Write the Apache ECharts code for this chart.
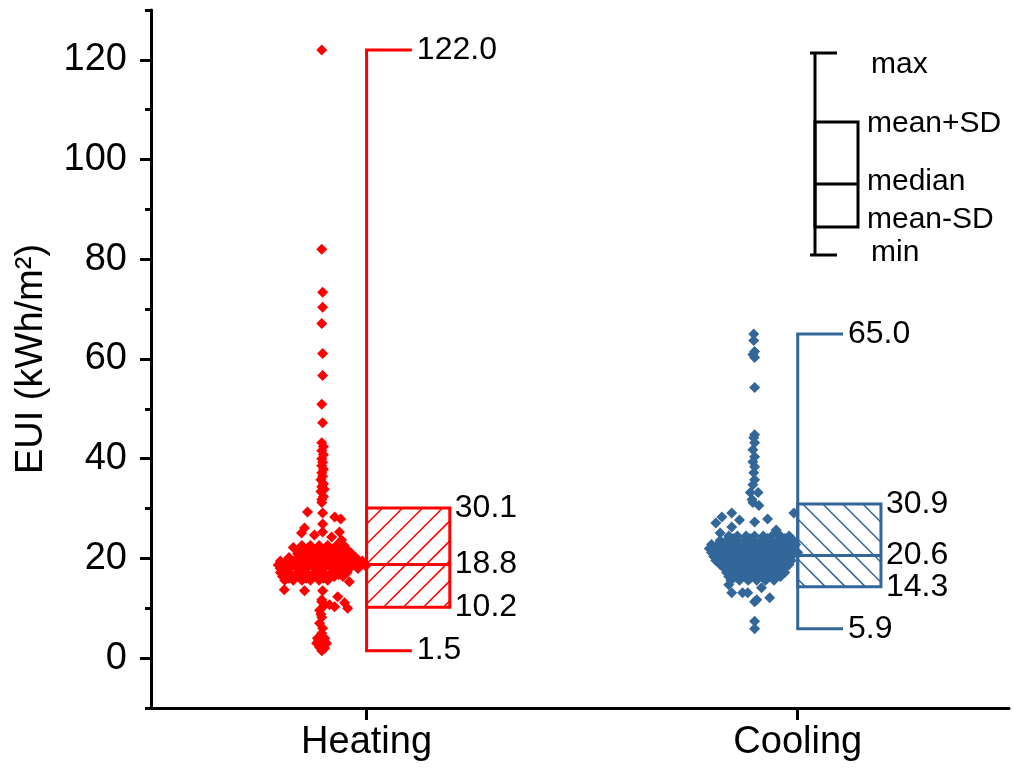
<!DOCTYPE html>
<html>
<head>
<meta charset="utf-8">
<script src="https://cdn.jsdelivr.net/npm/echarts@6/dist/echarts.min.js"></script>
<style>
html, body { margin: 0; padding: 0; background: #fff; }
#chart { width: 1013px; height: 773px; }
</style>
</head>
<body>
<div id="chart"></div>
<script>
var FONT = '"Liberation Sans", Arial, sans-serif';

// categories and their x position
var groups = ['Heating', 'Cooling'];
var groupPos = [1, 2];
var groupColors = ['#ff0000', '#336699'];

// [min, mean-SD, median, mean+SD, max]
var heatingStats = [1.5, 10.2, 18.8, 30.1, 122.0];
var coolingStats = [5.9, 14.3, 20.6, 30.9, 65.0];

var yTicks = [0, 20, 40, 60, 80, 100, 120];
var yMinorTicks = [-10, 10, 30, 50, 70, 90, 110, 130];

// individual buildings: [x offset from group position, EUI]
var heatingPts = [
  [-0.104, 122.0], [-0.104, 82.0], [-0.102, 73.4], [-0.102, 70.4], [-0.104, 67.1],
  [-0.102, 61.1], [-0.102, 56.7], [-0.104, 50.9], [-0.102, 47.2], [-0.104, 43.2],
  [-0.100, 42.4], [-0.104, 41.6], [-0.100, 40.8], [-0.104, 40.0], [-0.102, 39.3],
  [-0.104, 38.6], [-0.100, 37.9], [-0.104, 37.2], [-0.102, 36.5], [-0.106, 35.8],
  [-0.100, 35.0], [-0.104, 34.4], [-0.098, 33.9], [-0.106, 33.4], [-0.100, 32.4],
  [-0.104, 31.8], [-0.104, 31.2],
  [-0.137, 29.3], [-0.102, 29.1], [-0.074, 28.3], [-0.060, 27.9], [-0.144, 26.1],
  [-0.102, 26.9], [-0.102, 25.3], [-0.063, 25.3], [-0.151, 25.1], [-0.121, 24.7],
  [-0.081, 24.3], [-0.058, 23.7],
  [-0.150, 22.6], [-0.130, 22.6], [-0.110, 22.6], [-0.090, 22.6], [-0.070, 22.6], [-0.052, 22.6],
  [-0.155, 21.8], [-0.140, 21.8], [-0.120, 21.8], [-0.100, 21.8], [-0.080, 21.8], [-0.060, 21.8], [-0.045, 21.8],
  [-0.160, 21.0], [-0.145, 21.0], [-0.125, 21.0], [-0.105, 21.0], [-0.085, 21.0], [-0.065, 21.0], [-0.045, 21.0], [-0.035, 21.0],
  [-0.180, 20.2], [-0.160, 20.2], [-0.140, 20.2], [-0.120, 20.2], [-0.100, 20.2], [-0.080, 20.2], [-0.060, 20.2], [-0.040, 20.2], [-0.025, 20.2],
  [-0.200, 19.5], [-0.185, 19.5], [-0.165, 19.5], [-0.145, 19.5], [-0.125, 19.5], [-0.105, 19.5], [-0.085, 19.5], [-0.065, 19.5], [-0.045, 19.5], [-0.025, 19.5], [-0.010, 19.5],
  [-0.205, 18.7], [-0.190, 18.7], [-0.170, 18.7], [-0.150, 18.7], [-0.130, 18.7], [-0.110, 18.7], [-0.090, 18.7], [-0.070, 18.7], [-0.050, 18.7], [-0.030, 18.7], [-0.012, 18.7], [-0.002, 18.5],
  [-0.200, 18.0], [-0.180, 18.0], [-0.160, 18.0], [-0.140, 18.0], [-0.120, 18.0], [-0.100, 18.0], [-0.080, 18.0], [-0.060, 18.0], [-0.040, 18.0], [-0.020, 18.0],
  [-0.200, 17.2], [-0.180, 17.2], [-0.160, 17.2], [-0.140, 17.2], [-0.120, 17.2], [-0.100, 17.2], [-0.080, 17.2], [-0.060, 17.2], [-0.045, 17.2],
  [-0.195, 16.4], [-0.175, 16.4], [-0.155, 16.4], [-0.135, 16.4], [-0.115, 16.4], [-0.095, 16.4], [-0.075, 16.4], [-0.055, 16.4],
  [-0.190, 15.6], [-0.170, 15.6], [-0.150, 15.6], [-0.130, 15.6], [-0.110, 15.6], [-0.090, 15.6], [-0.040, 15.3],
  [-0.170, 22.2], [-0.135, 22.2], [-0.095, 22.2], [-0.075, 21.4], [-0.115, 21.4], [-0.150, 20.6],
  [-0.110, 20.6], [-0.070, 20.6], [-0.190, 19.1], [-0.155, 19.1], [-0.115, 19.1], [-0.075, 19.1],
  [-0.035, 19.1], [-0.195, 17.6], [-0.150, 17.6], [-0.110, 17.6], [-0.070, 17.6], [-0.185, 16.8],
  [-0.145, 16.8], [-0.105, 16.8], [-0.065, 16.8], [-0.180, 16.0], [-0.140, 16.0], [-0.100, 16.0],
  [-0.191, 13.7], [-0.144, 13.5], [-0.102, 13.5], [-0.067, 12.3], [-0.086, 10.7], [-0.051, 11.1],
  [-0.044, 10.0], [-0.074, 10.3],
  [-0.104, 11.7], [-0.104, 11.3], [-0.100, 10.4], [-0.109, 9.6], [-0.106, 8.8], [-0.104, 8.2],
  [-0.109, 7.0], [-0.102, 6.0], [-0.104, 5.0], [-0.114, 4.0], [-0.097, 4.0], [-0.111, 3.5],
  [-0.116, 3.0], [-0.093, 3.0], [-0.100, 2.6], [-0.109, 2.2], [-0.097, 2.0], [-0.104, 1.5]
];

var coolingPts = [
  [-0.102, 65.0], [-0.102, 63.7], [-0.100, 61.5], [-0.104, 60.9], [-0.100, 60.3],
  [-0.100, 54.3], [-0.100, 44.8], [-0.102, 44.2], [-0.100, 43.2], [-0.104, 41.8],
  [-0.100, 40.4], [-0.104, 39.4], [-0.100, 38.4], [-0.102, 37.2], [-0.100, 35.8],
  [-0.104, 34.8], [-0.110, 33.2], [-0.092, 33.2], [-0.106, 31.8], [-0.104, 31.2],
  [-0.090, 30.6],
  [-0.009, 29.1], [-0.153, 29.1], [-0.176, 28.3], [-0.190, 27.1], [-0.100, 27.3],
  [-0.070, 27.9], [-0.135, 27.7], [-0.180, 25.1], [-0.153, 26.3], [-0.050, 25.7],
  [-0.160, 24.5], [-0.140, 24.5], [-0.120, 24.5], [-0.100, 24.5], [-0.080, 24.5], [-0.060, 24.5], [-0.040, 24.5], [-0.020, 24.5],
  [-0.180, 23.6], [-0.165, 23.6], [-0.145, 23.6], [-0.125, 23.6], [-0.105, 23.6], [-0.085, 23.6], [-0.065, 23.6], [-0.045, 23.6], [-0.025, 23.6], [-0.010, 23.6],
  [-0.200, 22.8], [-0.180, 22.8], [-0.160, 22.8], [-0.140, 22.8], [-0.120, 22.8], [-0.100, 22.8], [-0.080, 22.8], [-0.060, 22.8], [-0.040, 22.8], [-0.020, 22.8], [-0.005, 22.8],
  [-0.205, 22.0], [-0.185, 22.0], [-0.165, 22.0], [-0.145, 22.0], [-0.125, 22.0], [-0.105, 22.0], [-0.085, 22.0], [-0.065, 22.0], [-0.045, 22.0], [-0.025, 22.0], [-0.010, 22.0],
  [-0.200, 21.2], [-0.180, 21.2], [-0.160, 21.2], [-0.140, 21.2], [-0.120, 21.2], [-0.100, 21.2], [-0.080, 21.2], [-0.060, 21.2], [-0.040, 21.2], [-0.020, 21.2], [0.000, 21.2],
  [-0.195, 20.4], [-0.175, 20.4], [-0.155, 20.4], [-0.135, 20.4], [-0.115, 20.4], [-0.095, 20.4], [-0.075, 20.4], [-0.055, 20.4], [-0.035, 20.4], [-0.015, 20.4],
  [-0.190, 19.6], [-0.170, 19.6], [-0.150, 19.6], [-0.130, 19.6], [-0.110, 19.6], [-0.090, 19.6], [-0.070, 19.6], [-0.050, 19.6], [-0.030, 19.6], [-0.015, 19.6],
  [-0.180, 18.8], [-0.160, 18.8], [-0.140, 18.8], [-0.120, 18.8], [-0.100, 18.8], [-0.080, 18.8], [-0.060, 18.8], [-0.040, 18.8], [-0.020, 18.8],
  [-0.170, 18.0], [-0.150, 18.0], [-0.130, 18.0], [-0.110, 18.0], [-0.090, 18.0], [-0.070, 18.0], [-0.050, 18.0], [-0.030, 18.0],
  [-0.165, 17.2], [-0.145, 17.2], [-0.125, 17.2], [-0.105, 17.2], [-0.085, 17.2], [-0.065, 17.2], [-0.045, 17.2], [-0.030, 17.2],
  [-0.160, 16.4], [-0.140, 16.4], [-0.120, 16.4], [-0.100, 16.4], [-0.080, 16.4], [-0.060, 16.4], [-0.040, 16.4],
  [-0.155, 15.6], [-0.135, 15.6], [-0.115, 15.6], [-0.095, 15.6], [-0.075, 15.6], [-0.055, 15.6],
  [-0.150, 24.0], [-0.110, 24.0], [-0.070, 24.0], [-0.030, 24.0], [-0.190, 22.4], [-0.150, 22.4],
  [-0.110, 22.4], [-0.070, 22.4], [-0.030, 22.4], [-0.190, 20.8], [-0.150, 20.8], [-0.110, 20.8],
  [-0.070, 20.8], [-0.030, 20.8], [-0.180, 19.2], [-0.140, 19.2], [-0.100, 19.2], [-0.060, 19.2],
  [-0.025, 19.2], [-0.160, 17.6], [-0.120, 17.6], [-0.080, 17.6], [-0.040, 17.6], [-0.150, 16.0],
  [-0.110, 16.0], [-0.070, 16.0],
  [-0.160, 14.7], [-0.084, 14.1], [-0.153, 13.1], [-0.128, 13.1], [-0.116, 13.1],
  [-0.065, 12.1], [-0.095, 11.7], [-0.100, 11.3], [-0.100, 7.4], [-0.100, 5.9]
];

var boxW = 0.193;   // box width in x units
var capW = 0.105;   // whisker cap length in x units

var chart = echarts.init(document.getElementById('chart'));

function boxItem(params, api) {
  var i = params.dataIndex;
  var color = groupColors[i];
  var x = api.value(0);
  var st = [api.value(1), api.value(2), api.value(3), api.value(4), api.value(5)];
  var xl = api.coord([x, 0])[0];
  var xr = api.coord([x + boxW, 0])[0];
  var xc = api.coord([x + capW, 0])[0];
  var yMin = api.coord([x, st[0]])[1];
  var yLo = api.coord([x, st[1]])[1];
  var yMed = api.coord([x, st[2]])[1];
  var yHi = api.coord([x, st[3]])[1];
  var yMax = api.coord([x, st[4]])[1];
  var thick = { stroke: color, lineWidth: 3 };
  var thin = { stroke: color, lineWidth: 1.5 };
  var children = [];

  // hatching clipped to the box
  var step = 20, k, c, xa, xb;
  for (k = -20; k <= 20; k++) {
    if (i === 0) {
      // '/' : x + y = c
      c = xl + yHi + 16 + k * step;
      xa = Math.max(xl, c - yLo);
      xb = Math.min(xr, c - yHi);
      if (xb - xa > 1) children.push({ type: 'line', shape: { x1: xa, y1: c - xa, x2: xb, y2: c - xb }, style: thin });
    } else {
      // '\' : y - x = c
      c = yHi - (xl + 5) + k * step;
      xa = Math.max(xl, yHi - c);
      xb = Math.min(xr, yLo - c);
      if (xb - xa > 1) children.push({ type: 'line', shape: { x1: xa, y1: xa + c, x2: xb, y2: xb + c }, style: thin });
    }
  }

  children.push(
    { type: 'line', shape: { x1: xl, y1: yMin, x2: xl, y2: yMax }, style: thick },
    { type: 'line', shape: { x1: xl - 1.5, y1: yMax, x2: xc, y2: yMax }, style: thick },
    { type: 'line', shape: { x1: xl - 1.5, y1: yMin, x2: xc, y2: yMin }, style: thick },
    { type: 'rect', shape: { x: xl, y: yHi, width: xr - xl, height: yLo - yHi }, style: { fill: null, stroke: color, lineWidth: 3 } },
    { type: 'line', shape: { x1: xl, y1: yMed, x2: xr, y2: yMed }, style: thick }
  );

  var labels = [[xc + 5, yMax, st[4]], [xr + 5, yHi, st[3]], [xr + 5, yMed, st[2]], [xr + 5, yLo, st[1]], [xc + 5, yMin, st[0]]];
  labels.forEach(function (l) {
    children.push({
      type: 'text',
      style: { x: l[0], y: l[1], text: l[2].toFixed(1), fill: '#000', fontSize: 32, fontFamily: FONT, align: 'left', verticalAlign: 'middle' }
    });
  });
  return { type: 'group', children: children };
}

function toXY(pts, pos) {
  return pts.map(function (p) { return [pos + p[0], p[1]]; });
}

// legend sketch in the top right corner
var lg = { stroke: '#000', lineWidth: 3 };
var legendText = [['max', 871, 65], ['mean+SD', 867, 124], ['median', 867, 182], ['mean-SD', 867, 220], ['min', 871, 253]];
var graphic = [
  { type: 'line', shape: { x1: 815, y1: 52, x2: 815, y2: 255 }, style: lg },
  { type: 'line', shape: { x1: 810, y1: 53, x2: 837, y2: 53 }, style: lg },
  { type: 'line', shape: { x1: 810, y1: 255, x2: 837, y2: 255 }, style: lg },
  { type: 'rect', shape: { x: 815, y: 122, width: 43, height: 105 }, style: { fill: null, stroke: '#000', lineWidth: 3 } },
  { type: 'line', shape: { x1: 815, y1: 184, x2: 858, y2: 184 }, style: lg }
];
legendText.forEach(function (t) {
  graphic.push({ type: 'text', x: t[1], y: t[2], style: { text: t[0], fill: '#000', fontSize: 30, fontFamily: FONT, verticalAlign: 'middle' } });
});

var option = {
  animation: false,
  backgroundColor: '#fff',
  textStyle: { fontFamily: FONT },
  grid: { left: 151, right: 4, top: 10, bottom: 65 },
  xAxis: {
    type: 'value',
    min: 0.5,
    max: 2.49,
    splitLine: { show: false },
    axisLine: { onZero: false, lineStyle: { color: '#000', width: 3 } },
    axisTick: { customValues: groupPos, length: 12, lineStyle: { color: '#000', width: 3 } },
    axisLabel: {
      customValues: groupPos,
      margin: 16,
      fontSize: 38,
      color: '#000',
      formatter: function (v) { return groups[groupPos.indexOf(v)] || ''; }
    }
  },
  yAxis: [
    {
      type: 'value',
      min: -10,
      max: 130,
      name: 'EUI (kWh/m²)',
      nameLocation: 'middle',
      nameGap: 100,
      nameTextStyle: { fontSize: 38, color: '#000', fontFamily: FONT },
      splitLine: { show: false },
      axisLine: { show: true, onZero: false, lineStyle: { color: '#000', width: 3 } },
      axisTick: { customValues: yTicks, length: 11, lineStyle: { color: '#000', width: 3 } },
      axisLabel: { customValues: yTicks, margin: 24, fontSize: 38, color: '#000' }
    },
    {
      type: 'value',
      min: -10,
      max: 130,
      position: 'left',
      splitLine: { show: false },
      axisLine: { show: false },
      axisTick: { customValues: yMinorTicks, length: 6, lineStyle: { color: '#000', width: 3 } },
      axisLabel: { show: false }
    }
  ],
  series: [
    {
      type: 'scatter',
      symbol: 'diamond',
      symbolSize: 11,
      itemStyle: { color: groupColors[0], opacity: 1 },
      data: toXY(heatingPts, groupPos[0])
    },
    {
      type: 'scatter',
      symbol: 'diamond',
      symbolSize: 11,
      itemStyle: { color: groupColors[1], opacity: 1 },
      data: toXY(coolingPts, groupPos[1])
    },
    {
      type: 'custom',
      renderItem: boxItem,
      clip: false,
      data: [[groupPos[0]].concat(heatingStats), [groupPos[1]].concat(coolingStats)]
    }
  ],
  graphic: graphic
};

chart.setOption(option);
</script>
</body>
</html>
